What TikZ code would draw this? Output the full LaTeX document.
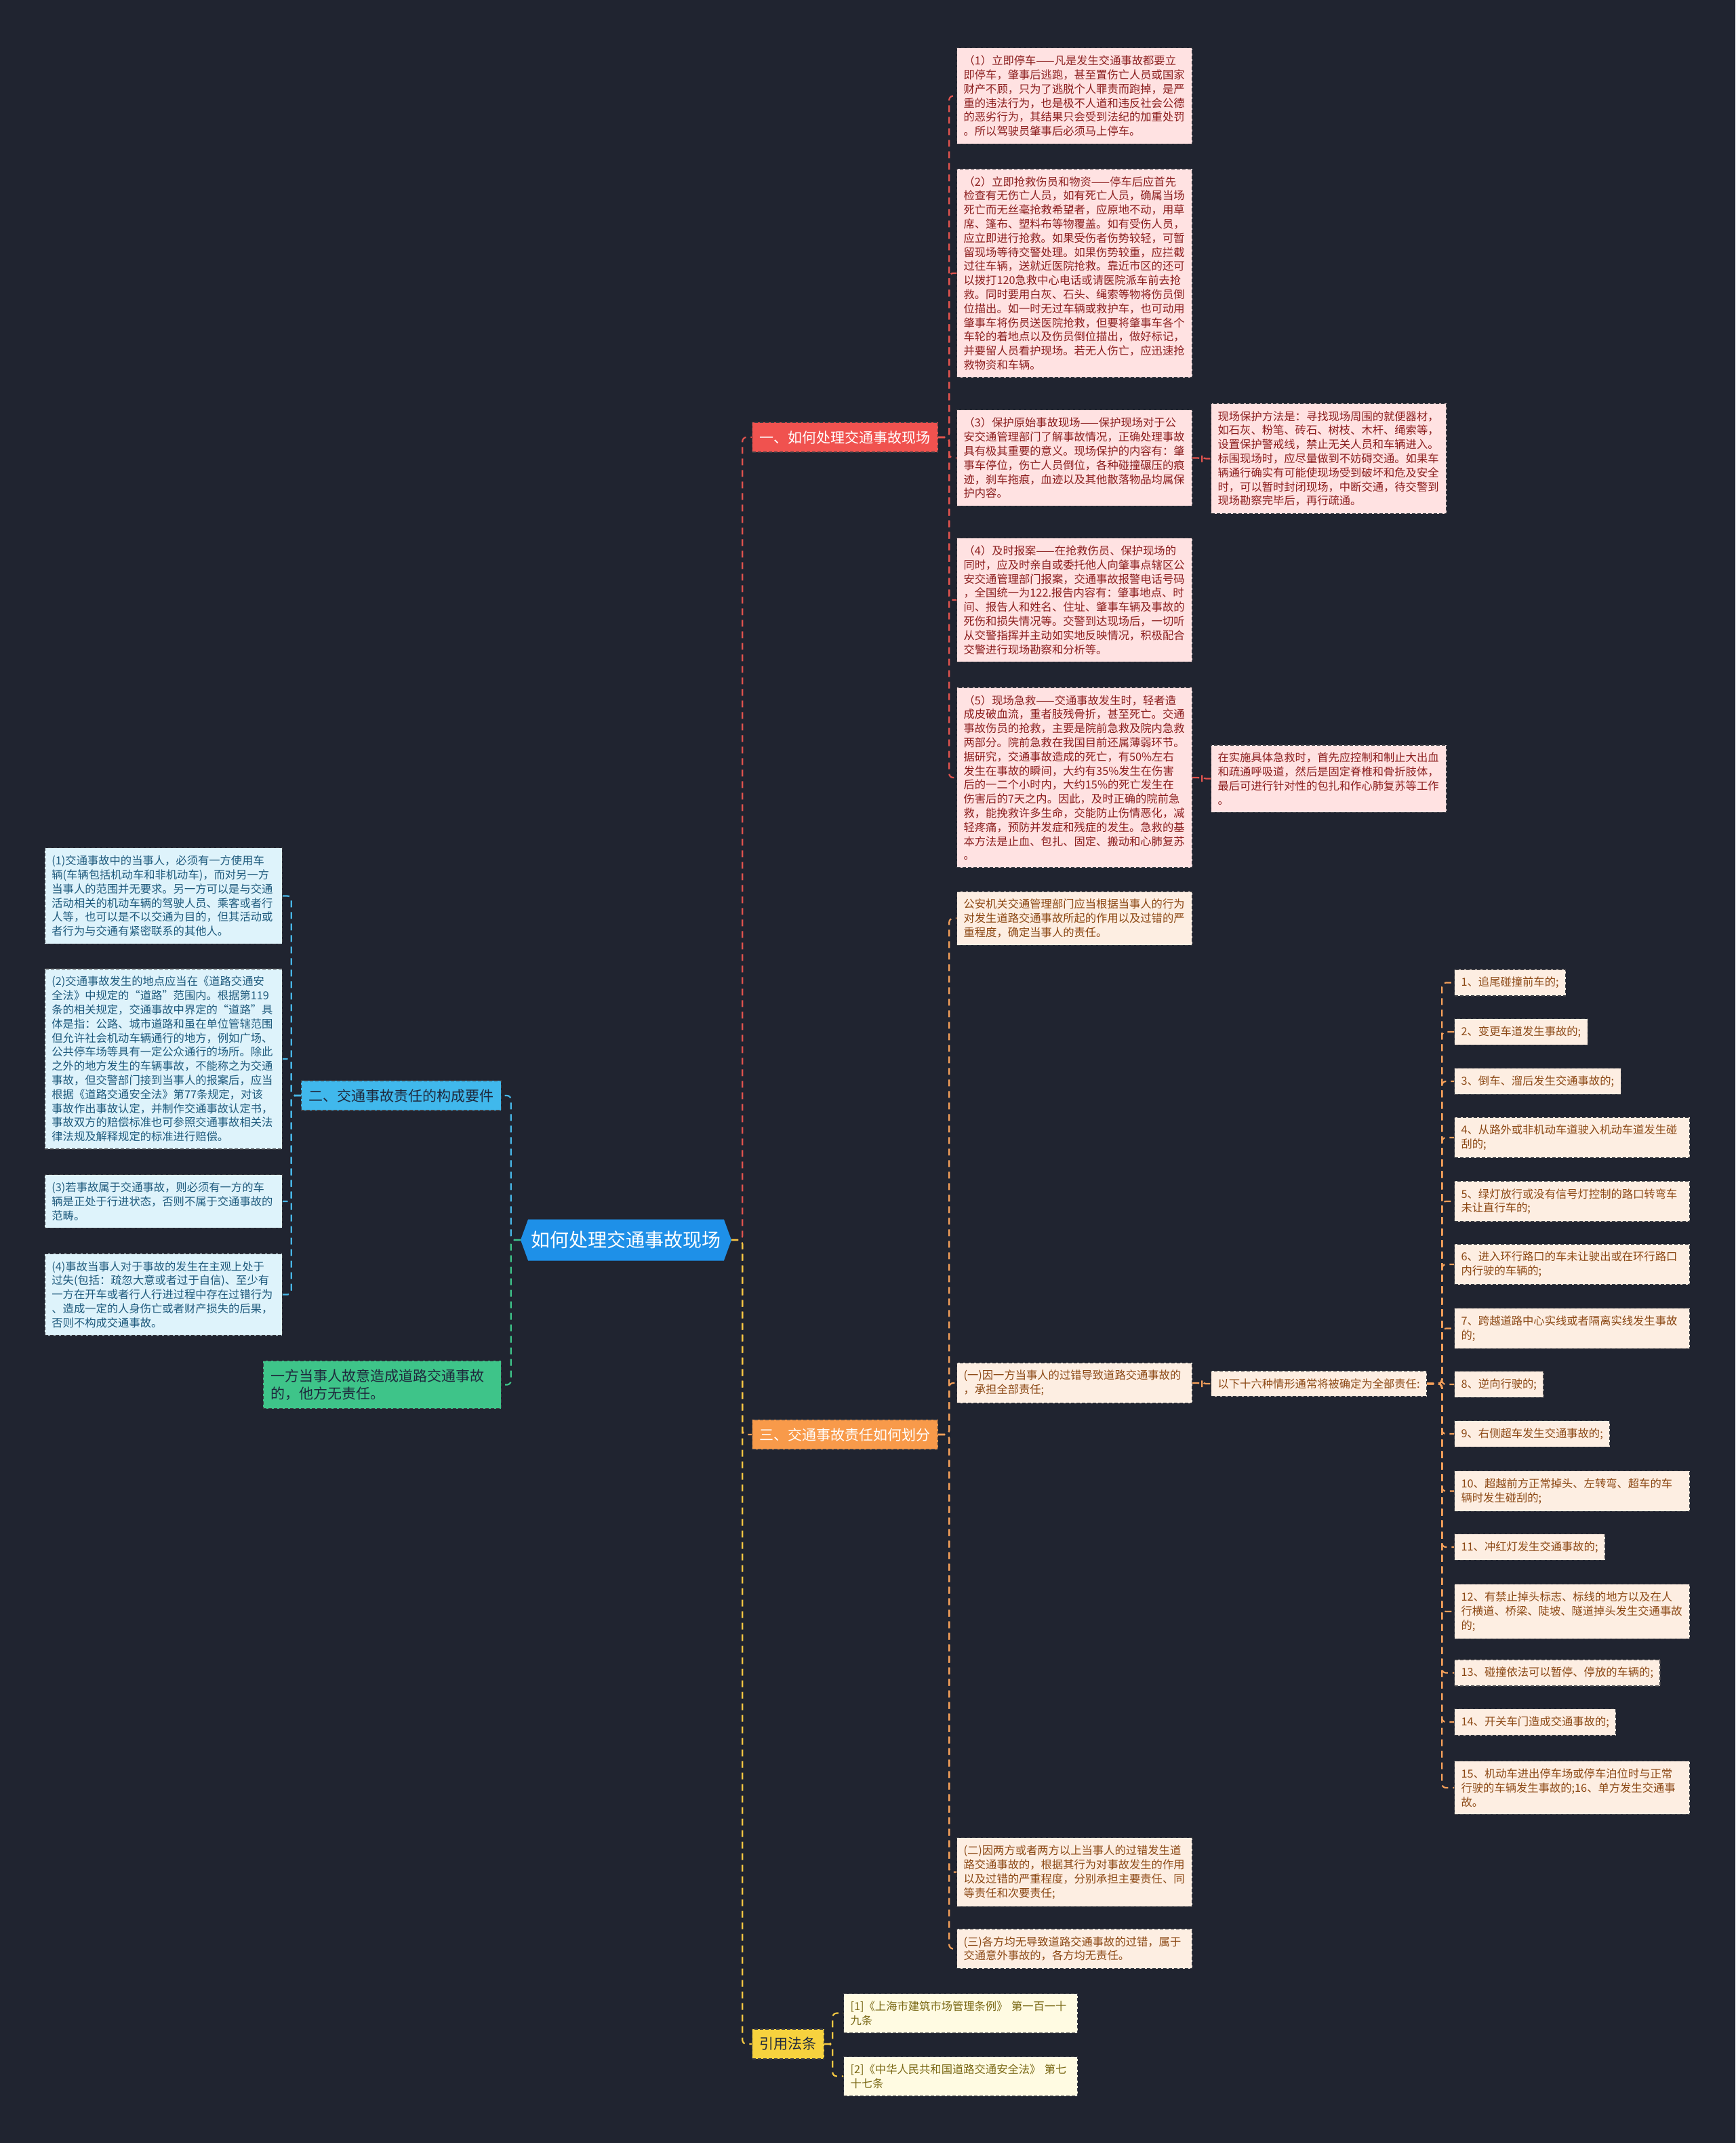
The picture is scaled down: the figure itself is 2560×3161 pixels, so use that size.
\documentclass[tikz,border=0pt]{standalone}
\usepackage{fontspec}
\setmainfont{Noto Sans CJK SC}
\usetikzlibrary{shapes.symbols}

\definecolor{bgdark}{RGB}{32,36,48}
\definecolor{redline}{RGB}{226,83,78}
\definecolor{orangeline}{RGB}{245,160,90}
\definecolor{blueline}{RGB}{72,182,230}
\definecolor{yellowline}{RGB}{245,200,66}
\definecolor{greenline}{RGB}{62,196,137}
\definecolor{pinkfill}{RGB}{255,226,226}
\definecolor{pinktext}{RGB}{140,30,30}
\definecolor{peachfill}{RGB}{253,238,226}
\definecolor{peachtext}{RGB}{140,72,20}
\definecolor{skyfill}{RGB}{222,243,251}
\definecolor{skytext}{RGB}{30,90,125}
\definecolor{creamfill}{RGB}{255,251,226}
\definecolor{creamtext}{RGB}{122,104,20}
\definecolor{boxedge}{RGB}{60,60,66}
\definecolor{rootblue}{RGB}{30,144,232}
\definecolor{redfill}{RGB}{240,82,79}
\definecolor{orangefill}{RGB}{248,154,74}
\definecolor{bluefill}{RGB}{64,184,236}
\definecolor{yellowfill}{RGB}{247,210,62}
\definecolor{greenfill}{RGB}{62,196,137}
\definecolor{darktext}{RGB}{30,40,60}

\newcommand{\smallcn}{\fontsize{16.3}{20.8}\selectfont}
\newcommand{\midcn}{\fontsize{21}{26}\selectfont}
\newcommand{\bigcn}{\fontsize{28}{34}\selectfont}

\tikzset{
  leaf/.style={draw=boxedge, dash pattern=on 5pt off 3pt, line width=1.2pt, align=left, inner xsep=10pt, inner ysep=11pt, anchor=west, font=\smallcn},
  pinkleaf/.style={leaf, fill=pinkfill, text=pinktext, text width=327pt},
  peachleaf/.style={leaf, fill=peachfill, text=peachtext},
  peachwide/.style={peachleaf, text width=327pt},
  skyleaf/.style={leaf, fill=skyfill, text=skytext, text width=330pt, anchor=east},
  creamleaf/.style={leaf, fill=creamfill, text=creamtext, text width=325pt},
  branch/.style={draw=boxedge, dash pattern=on 5pt off 3pt, line width=1.2pt, font=\midcn, inner xsep=11pt, minimum height=44pt, anchor=west},
  link/.style={dash pattern=on 10pt off 7pt, line width=2.2pt, rounded corners=6pt},
}

\begin{document}
\begin{tikzpicture}[x=1pt, y=-1pt]
  \fill[bgdark] (0,0) rectangle (2560,3161);
  \useasboundingbox (0,0) rectangle (2560,3161);

  \node[signal, signal to=east and west, signal pointer angle=140, fill=rootblue, text=white, font=\bigcn, minimum width=311pt, minimum height=61pt] (root) at (923.5,1829) {如何处理交通事故现场};

  \node[branch, fill=redfill, text=white] (scene) at (1109,645) {一、如何处理交通事故现场};
  \node[branch, fill=bluefill, text=darktext, anchor=east] (element) at (740,1616) {二、交通事故责任的构成要件};
  \node[branch, fill=orangefill, text=white] (duty) at (1109,2116) {三、交通事故责任如何划分};
  \node[branch, fill=yellowfill, text=darktext] (law) at (1109,3015) {引用法条};
  \node[branch, fill=greenfill, text=darktext, anchor=east, text width=329pt, align=left, inner ysep=12pt] (intent) at (740,2042.5) {一方当事人故意造成道路交通事故\\的，他方无责任。};

  \draw[link, redline] (root.east) -- ++(16,0) |- (scene.west);
  \draw[link, orangeline] (root.east) -- ++(16,0) |- (duty.west);
  \draw[link, yellowline] (root.east) -- ++(16,0) |- (law.west);
  \draw[link, blueline] (root.west) -- ++(-14,0) |- (element.east);
  \draw[link, greenline] (root.west) -- ++(-14,0) |- (intent.east);

  \node[pinkleaf] (stop) at (1411,141.5) {（1）立即停车——凡是发生交通事故都要立\\即停车，肇事后逃跑，甚至置伤亡人员或国家\\财产不顾，只为了逃脱个人罪责而跑掉，是严\\重的违法行为，也是极不人道和违反社会公德\\的恶劣行为，其结果只会受到法纪的加重处罚\\。所以驾驶员肇事后必须马上停车。};
  \node[pinkleaf] (rescue) at (1411,403) {（2）立即抢救伤员和物资——停车后应首先\\检查有无伤亡人员，如有死亡人员，确属当场\\死亡而无丝毫抢救希望者，应原地不动，用草\\席、篷布、塑料布等物覆盖。如有受伤人员，\\应立即进行抢救。如果受伤者伤势较轻，可暂\\留现场等待交警处理。如果伤势较重，应拦截\\过往车辆，送就近医院抢救。靠近市区的还可\\以拨打120急救中心电话或请医院派车前去抢\\救。同时要用白灰、石头、绳索等物将伤员倒\\位描出。如一时无过车辆或救护车，也可动用\\肇事车将伤员送医院抢救，但要将肇事车各个\\车轮的着地点以及伤员倒位描出，做好标记，\\并要留人员看护现场。若无人伤亡，应迅速抢\\救物资和车辆。};
  \node[pinkleaf] (guard) at (1411,675.5) {（3）保护原始事故现场——保护现场对于公\\安交通管理部门了解事故情况，正确处理事故\\具有极其重要的意义。现场保护的内容有：肇\\事车停位，伤亡人员倒位，各种碰撞碾压的痕\\迹，刹车拖痕，血迹以及其他散落物品均属保\\护内容。};
  \node[pinkleaf] (guardway) at (1786,676.5) {现场保护方法是：寻找现场周围的就便器材，\\如石灰、粉笔、砖石、树枝、木杆、绳索等，\\设置保护警戒线，禁止无关人员和车辆进入。\\标围现场时，应尽量做到不妨碍交通。如果车\\辆通行确实有可能使现场受到破坏和危及安全\\时，可以暂时封闭现场，中断交通，待交警到\\现场勘察完毕后，再行疏通。};
  \node[pinkleaf] (report) at (1411,885) {（4）及时报案——在抢救伤员、保护现场的\\同时，应及时亲自或委托他人向肇事点辖区公\\安交通管理部门报案，交通事故报警电话号码\\，全国统一为122.报告内容有：肇事地点、时\\间、报告人和姓名、住址、肇事车辆及事故的\\死伤和损失情况等。交警到达现场后，一切听\\从交警指挥并主动如实地反映情况，积极配合\\交警进行现场勘察和分析等。};
  \node[pinkleaf] (aid) at (1411,1147) {（5）现场急救——交通事故发生时，轻者造\\成皮破血流，重者肢残骨折，甚至死亡。交通\\事故伤员的抢救，主要是院前急救及院内急救\\两部分。院前急救在我国目前还属薄弱环节。\\据研究，交通事故造成的死亡，有50\%左右\\发生在事故的瞬间，大约有35\%发生在伤害\\后的一二个小时内，大约15\%的死亡发生在\\伤害后的7天之内。因此，及时正确的院前急\\救，能挽救许多生命，交能防止伤情恶化，减\\轻疼痛，预防并发症和残症的发生。急救的基\\本方法是止血、包扎、固定、搬动和心肺复苏\\。};
  \node[pinkleaf] (aidway) at (1786,1148.5) {在实施具体急救时，首先应控制和制止大出血\\和疏通呼吸道，然后是固定脊椎和骨折肢体，\\最后可进行针对性的包扎和作心肺复苏等工作\\。};

  \draw[link, redline] (scene.east) -- ++(16,0) |- (stop.west);
  \draw[link, redline] (scene.east) -- ++(16,0) |- (rescue.west);
  \draw[link, redline] (scene.east) -- ++(16,0) |- (guard.west);
  \draw[link, redline] (scene.east) -- ++(16,0) |- (report.west);
  \draw[link, redline] (scene.east) -- ++(16,0) |- (aid.west);
  \draw[link, redline] (guard.east) -- ++(14,0) |- (guardway.west);
  \draw[link, redline] (aid.east) -- ++(14,0) |- (aidway.west);

  \node[skyleaf] (party) at (417,1321.5) {(1)交通事故中的当事人，必须有一方使用车\\辆(车辆包括机动车和非机动车)，而对另一方\\当事人的范围并无要求。另一方可以是与交通\\活动相关的机动车辆的驾驶人员、乘客或者行\\人等，也可以是不以交通为目的，但其活动或\\者行为与交通有紧密联系的其他人。};
  \node[skyleaf] (place) at (417,1562) {(2)交通事故发生的地点应当在《道路交通安\\全法》中规定的“道路”范围内。根据第119\\条的相关规定，交通事故中界定的“道路”具\\体是指：公路、城市道路和虽在单位管辖范围\\但允许社会机动车辆通行的地方，例如广场、\\公共停车场等具有一定公众通行的场所。除此\\之外的地方发生的车辆事故，不能称之为交通\\事故，但交警部门接到当事人的报案后，应当\\根据《道路交通安全法》第77条规定，对该\\事故作出事故认定，并制作交通事故认定书，\\事故双方的赔偿标准也可参照交通事故相关法\\律法规及解释规定的标准进行赔偿。};
  \node[skyleaf] (moving) at (417,1772) {(3)若事故属于交通事故，则必须有一方的车\\辆是正处于行进状态，否则不属于交通事故的\\范畴。};
  \node[skyleaf] (fault) at (417,1909.5) {(4)事故当事人对于事故的发生在主观上处于\\过失(包括：疏忽大意或者过于自信)、至少有\\一方在开车或者行人行进过程中存在过错行为\\、造成一定的人身伤亡或者财产损失的后果，\\否则不构成交通事故。};

  \draw[link, blueline] (element.west) -- ++(-14,0) |- (party.east);
  \draw[link, blueline] (element.west) -- ++(-14,0) |- (place.east);
  \draw[link, blueline] (element.west) -- ++(-14,0) |- (moving.east);
  \draw[link, blueline] (element.west) -- ++(-14,0) |- (fault.east);

  \node[peachwide] (police) at (1411,1354.5) {公安机关交通管理部门应当根据当事人的行为\\对发生道路交通事故所起的作用以及过错的严\\重程度，确定当事人的责任。};
  \node[peachwide] (onefault) at (1411,2040) {(一)因一方当事人的过错导致道路交通事故的\\，承担全部责任;};
  \node[peachleaf] (sixteen) at (1786,2041) {以下十六种情形通常将被确定为全部责任:};
  \node[peachwide] (bothfault) at (1411,2761.5) {(二)因两方或者两方以上当事人的过错发生道\\路交通事故的，根据其行为对事故发生的作用\\以及过错的严重程度，分别承担主要责任、同\\等责任和次要责任;};
  \node[peachwide] (nofault) at (1411,2874.5) {(三)各方均无导致道路交通事故的过错，属于\\交通意外事故的，各方均无责任。};

  \draw[link, orangeline] (duty.east) -- ++(16,0) |- (police.west);
  \draw[link, orangeline] (duty.east) -- ++(16,0) |- (onefault.west);
  \draw[link, orangeline] (duty.east) -- ++(16,0) |- (bothfault.west);
  \draw[link, orangeline] (duty.east) -- ++(16,0) |- (nofault.west);
  \draw[link, orangeline] (onefault.east) -- ++(14,0) |- (sixteen.west);

  \node[peachleaf] (case1) at (2145,1449.5) {1、追尾碰撞前车的;};
  \node[peachleaf] (case2) at (2145,1522) {2、变更车道发生事故的;};
  \node[peachleaf] (case3) at (2145,1595) {3、倒车、溜后发生交通事故的;};
  \node[peachwide] (case4) at (2145,1678) {4、从路外或非机动车道驶入机动车道发生碰\\刮的;};
  \node[peachwide] (case5) at (2145,1772) {5、绿灯放行或没有信号灯控制的路口转弯车\\未让直行车的;};
  \node[peachwide] (case6) at (2145,1865) {6、进入环行路口的车未让驶出或在环行路口\\内行驶的车辆的;};
  \node[peachwide] (case7) at (2145,1959.5) {7、跨越道路中心实线或者隔离实线发生事故\\的;};
  \node[peachleaf] (case8) at (2145,2042) {8、逆向行驶的;};
  \node[peachleaf] (case9) at (2145,2115) {9、右侧超车发生交通事故的;};
  \node[peachwide] (case10) at (2145,2199.5) {10、超越前方正常掉头、左转弯、超车的车\\辆时发生碰刮的;};
  \node[peachleaf] (case11) at (2145,2282) {11、冲红灯发生交通事故的;};
  \node[peachwide] (case12) at (2145,2377) {12、有禁止掉头标志、标线的地方以及在人\\行横道、桥梁、陡坡、隧道掉头发生交通事故\\的;};
  \node[peachleaf] (case13) at (2145,2467.5) {13、碰撞依法可以暂停、停放的车辆的;};
  \node[peachleaf] (case14) at (2145,2540) {14、开关车门造成交通事故的;};
  \node[peachwide] (case15) at (2145,2637) {15、机动车进出停车场或停车泊位时与正常\\行驶的车辆发生事故的;16、单方发生交通事\\故。};

  \draw[link, orangeline] (sixteen.east) -- ++(22,0) |- (case1.west);
  \draw[link, orangeline] (sixteen.east) -- ++(22,0) |- (case2.west);
  \draw[link, orangeline] (sixteen.east) -- ++(22,0) |- (case3.west);
  \draw[link, orangeline] (sixteen.east) -- ++(22,0) |- (case4.west);
  \draw[link, orangeline] (sixteen.east) -- ++(22,0) |- (case5.west);
  \draw[link, orangeline] (sixteen.east) -- ++(22,0) |- (case6.west);
  \draw[link, orangeline] (sixteen.east) -- ++(22,0) |- (case7.west);
  \draw[link, orangeline] (sixteen.east) -- ++(22,0) |- (case8.west);
  \draw[link, orangeline] (sixteen.east) -- ++(22,0) |- (case9.west);
  \draw[link, orangeline] (sixteen.east) -- ++(22,0) |- (case10.west);
  \draw[link, orangeline] (sixteen.east) -- ++(22,0) |- (case11.west);
  \draw[link, orangeline] (sixteen.east) -- ++(22,0) |- (case12.west);
  \draw[link, orangeline] (sixteen.east) -- ++(22,0) |- (case13.west);
  \draw[link, orangeline] (sixteen.east) -- ++(22,0) |- (case14.west);
  \draw[link, orangeline] (sixteen.east) -- ++(22,0) |- (case15.west);

  \node[creamleaf] (ref1) at (1244,2969.5) {[1]《上海市建筑市场管理条例》 第一百一十\\九条};
  \node[creamleaf] (ref2) at (1244,3062.5) {[2]《中华人民共和国道路交通安全法》 第七\\十七条};

  \draw[link, yellowline] (law.east) -- ++(12,0) |- (ref1.west);
  \draw[link, yellowline] (law.east) -- ++(12,0) |- (ref2.west);
\end{tikzpicture}
\end{document}
